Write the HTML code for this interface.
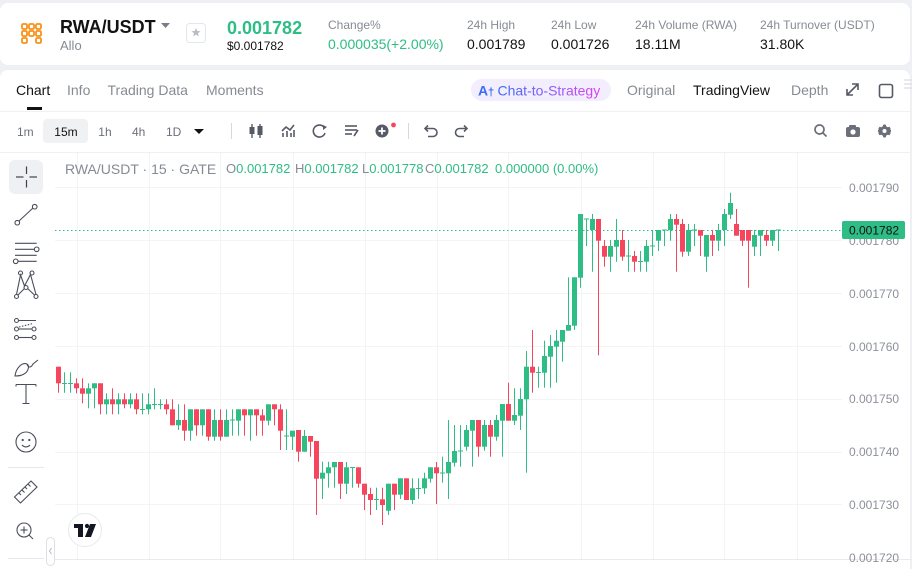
<!DOCTYPE html>
<html><head><meta charset="utf-8">
<style>
*{margin:0;padding:0;box-sizing:border-box}
html,body{width:912px;height:569px;overflow:hidden;background:#eff0f3;font-family:"Liberation Sans",sans-serif}
body{position:relative}
.card{position:absolute;background:#fff;border-radius:8px}
.t{position:absolute;white-space:nowrap;line-height:1}
.g{color:#868b93}
.k{color:#121212}
.gr{color:#2ebd85}
</style></head><body>
<div class="card" style="left:0;top:3px;width:910px;height:62px"></div>
<div class="card" style="left:0;top:70px;width:910px;height:499px;border-bottom-left-radius:0;border-bottom-right-radius:0"></div>

<svg style="position:absolute;left:0;top:0" width="912" height="569">
  <g fill="none" stroke="#f7931a" stroke-width="1.8">
    <rect x="22" y="24" width="5" height="5" rx="1.2"/><rect x="29" y="24" width="5" height="5" rx="1.2"/><rect x="36" y="24" width="5" height="5" rx="1.2"/>
    <rect x="22" y="31" width="5" height="5" rx="1.2"/><rect x="29" y="31" width="5" height="5" rx="1.2"/><rect x="36" y="31" width="5" height="5" rx="1.2"/>
    <rect x="22" y="38" width="5" height="5" rx="1.2"/><rect x="36" y="38" width="5" height="5" rx="1.2"/>
  </g>
  <polygon points="161,23 170,23 165.5,28" fill="#7a7e87"/>
  <rect x="186.5" y="23.5" width="19" height="19" rx="3" fill="#fff" stroke="#e4e6ea"/>
  <polygon points="196,28 197.3,31 200.4,31.2 198,33.2 198.8,36.3 196,34.6 193.2,36.3 194,33.2 191.6,31.2 194.7,31" fill="#b8bcc4"/>

  <rect x="27" y="107" width="15" height="3" fill="#121212"/>
  <rect x="471" y="79" width="140" height="22" rx="11" fill="#f3eefe"/>
  <defs><linearGradient id="cg" x1="0" x2="1" y1="0" y2="0"><stop offset="0" stop-color="#3a6cf6"/><stop offset="0.6" stop-color="#9b5cf6"/><stop offset="1" stop-color="#e040f0"/></linearGradient></defs>
  <text x="478" y="95.5" font-family="Liberation Sans" font-weight="bold" font-size="14" fill="#3a6cf6">A</text>
  <text x="488" y="95.5" font-family="Liberation Sans" font-weight="bold" font-size="11" fill="#3a6cf6">†</text>
  <text x="497.5" y="95.5" font-family="Liberation Sans" font-size="14" fill="url(#cg)">Chat-to-Strategy</text>
  <g stroke="#555a66" stroke-width="1.6" fill="none">
    <path d="M847,95 L858,84 M852,84 L858,84 L858,90 M847,89 L847,95 L853,95"/>
    <rect x="879.5" y="84.5" width="13" height="13" rx="2"/>
  </g>
  <g stroke="#d9dbe0" stroke-width="1.2"><line x1="904" y1="80" x2="912" y2="80"/><line x1="904" y1="84" x2="912" y2="84"/><line x1="904" y1="88" x2="912" y2="88"/></g>

  <line x1="0" y1="111.5" x2="910" y2="111.5" stroke="#f0f1f3"/>
  <rect x="43" y="119" width="45" height="24" rx="4" fill="#f0f1f3"/>
  <polygon points="194,129 204,129 199,134" fill="#121212"/>
  <line x1="231.5" y1="123" x2="231.5" y2="139" stroke="#d6d8dc"/>
  <line x1="408.5" y1="123" x2="408.5" y2="139" stroke="#d6d8dc"/>
  <g fill="#555a66" stroke="#555a66">
    <line x1="252" y1="124" x2="252" y2="138" stroke-width="1.4"/><rect x="249.5" y="127" width="5" height="7" stroke="none"/>
    <line x1="260" y1="124" x2="260" y2="138" stroke-width="1.4"/><rect x="257.5" y="126" width="5" height="9" stroke="none"/>
  </g>
  <g stroke="#555a66" stroke-width="1.6" fill="none">
    <polyline points="282,131 286,127 290,130 294,125"/>
    <line x1="283" y1="133" x2="283" y2="137"/><line x1="287" y1="131" x2="287" y2="137"/><line x1="291" y1="133" x2="291" y2="137"/><line x1="294" y1="130" x2="294" y2="137"/>
    <path d="M324.5,128 A6,6 0 1 0 325,133"/>
    <line x1="345" y1="126" x2="357" y2="126"/><line x1="345" y1="130" x2="357" y2="130"/><line x1="345" y1="134" x2="352" y2="134"/><line x1="354" y1="136" x2="358" y2="130"/>
    <path d="M425.5,128.5 L433,128.5 A4,4 0 0 1 433,136.5 L428,136.5"/>
    <path d="M467,128.5 L459.5,128.5 A4,4 0 0 0 459.5,136.5 L464,136.5"/>
  </g>
  <polygon points="323,125 327,127 323,130" fill="#555a66"/>
  <polyline points="428,125.5 425,128.5 428,131.5" fill="none" stroke="#555a66" stroke-width="1.6"/>
  <polyline points="464,125.5 467,128.5 464,131.5" fill="none" stroke="#555a66" stroke-width="1.6"/>
  <circle cx="382" cy="131" r="6.5" fill="#555a66"/>
  <line x1="378.5" y1="131" x2="385.5" y2="131" stroke="#fff" stroke-width="1.8"/><line x1="382" y1="127.5" x2="382" y2="134.5" stroke="#fff" stroke-width="1.8"/>
  <circle cx="393.5" cy="125" r="2.4" fill="#f6465d"/>
  <g stroke="#6b6f7a" stroke-width="1.7" fill="none">
    <circle cx="819.5" cy="129.5" r="4.5"/><line x1="823" y1="133" x2="826.5" y2="136.5"/>
  </g>
  <rect x="846" y="127" width="14" height="10" rx="2" fill="#6b6f7a"/><rect x="849" y="125" width="7" height="3" rx="1" fill="#6b6f7a"/>
  <circle cx="853" cy="132" r="2.6" fill="#fff"/>
  <g fill="#6b6f7a"><circle cx="884.5" cy="131" r="5"/>
    <rect x="883" y="124.5" width="3" height="13" rx="1"/><rect x="878" y="129.5" width="13" height="3" rx="1"/>
    <rect x="883" y="124.5" width="3" height="13" rx="1" transform="rotate(60 884.5 131)"/><rect x="883" y="124.5" width="3" height="13" rx="1" transform="rotate(-60 884.5 131)"/>
  </g>
  <circle cx="884.5" cy="131" r="2" fill="#fff"/>
  <line x1="0" y1="152.5" x2="910" y2="152.5" stroke="#eef0f2"/>

  <g stroke="#f3f4f6" stroke-width="1">
    <line x1="77.5" y1="153" x2="77.5" y2="559"/><line x1="149.5" y1="153" x2="149.5" y2="559"/><line x1="220.5" y1="153" x2="220.5" y2="559"/><line x1="293.5" y1="153" x2="293.5" y2="559"/><line x1="365.5" y1="153" x2="365.5" y2="559"/><line x1="437.5" y1="153" x2="437.5" y2="559"/><line x1="508.5" y1="153" x2="508.5" y2="559"/><line x1="581.5" y1="153" x2="581.5" y2="559"/><line x1="653.5" y1="153" x2="653.5" y2="559"/><line x1="724.5" y1="153" x2="724.5" y2="559"/><line x1="797.5" y1="153" x2="797.5" y2="559"/>
    <line x1="55" y1="187.5" x2="842" y2="187.5"/><line x1="55" y1="240.5" x2="842" y2="240.5"/><line x1="55" y1="293.5" x2="842" y2="293.5"/><line x1="55" y1="346.5" x2="842" y2="346.5"/><line x1="55" y1="399.5" x2="842" y2="399.5"/><line x1="55" y1="452.5" x2="842" y2="452.5"/><line x1="55" y1="504.5" x2="842" y2="504.5"/>
  </g>
  <line x1="55" y1="559.5" x2="912" y2="559.5" stroke="#e8eaed"/>

  <line x1="55" y1="230.5" x2="842" y2="230.5" stroke="#2ebd85" stroke-width="1" stroke-dasharray="1.5,2.5"/>

  <g fill="#2ebd85">
<rect x="62" y="383" width="5" height="1"/><rect x="64" y="372.3" width="1" height="20.4"/>
<rect x="68" y="383" width="5" height="1"/><rect x="70" y="372.3" width="1" height="20.4"/>
<rect x="86" y="388.3" width="5" height="5.4"/><rect x="88" y="383.3" width="1" height="25"/>
<rect x="92" y="383.3" width="5" height="5"/><rect x="94" y="383.3" width="1" height="25"/>
<rect x="104" y="399.3" width="5" height="5"/><rect x="106" y="393.3" width="1" height="21"/>
<rect x="116" y="399.3" width="5" height="5"/><rect x="118" y="393.3" width="1" height="21"/>
<rect x="128" y="399.3" width="5" height="5"/><rect x="130" y="393.3" width="1" height="15"/>
<rect x="140" y="409" width="5" height="1"/><rect x="142" y="393.3" width="1" height="21"/>
<rect x="146" y="404.3" width="5" height="5"/><rect x="148" y="393.3" width="1" height="21"/>
<rect x="152" y="404" width="5" height="1"/><rect x="154" y="388.3" width="1" height="21"/>
<rect x="158" y="404" width="5" height="1"/><rect x="160" y="399.3" width="1" height="10"/>
<rect x="176" y="420" width="5" height="5.3"/><rect x="178" y="404.3" width="1" height="25.7"/>
<rect x="188" y="409.3" width="5" height="21.4"/><rect x="190" y="409.3" width="1" height="31.4"/>
<rect x="200" y="409.3" width="5" height="16"/><rect x="202" y="409.3" width="1" height="26.4"/>
<rect x="212" y="420" width="5" height="16.7"/><rect x="214" y="409.3" width="1" height="31.4"/>
<rect x="224" y="420" width="5" height="16.7"/><rect x="226" y="409.3" width="1" height="27.4"/>
<rect x="230" y="419.5" width="5" height="1"/><rect x="232" y="409.3" width="1" height="26.4"/>
<rect x="236" y="409.3" width="5" height="11.4"/><rect x="238" y="409.3" width="1" height="26.4"/>
<rect x="248" y="409.3" width="5" height="6"/><rect x="250" y="409.3" width="1" height="31.4"/>
<rect x="266" y="404.3" width="5" height="16.4"/><rect x="268" y="404.3" width="1" height="21"/>
<rect x="284" y="435.5" width="5" height="1"/><rect x="286" y="409.3" width="1" height="40.7"/>
<rect x="290" y="430.7" width="5" height="6"/><rect x="292" y="430.7" width="1" height="19.3"/>
<rect x="302" y="436" width="5" height="15.7"/><rect x="304" y="430" width="1" height="21.7"/>
<rect x="320" y="472.7" width="5" height="6"/><rect x="322" y="461.7" width="1" height="37.3"/>
<rect x="326" y="467.3" width="5" height="6"/><rect x="328" y="461.7" width="1" height="26"/>
<rect x="332" y="462" width="5" height="5.3"/><rect x="334" y="462" width="1" height="25.7"/>
<rect x="344" y="467.3" width="5" height="16.4"/><rect x="346" y="462" width="1" height="32"/>
<rect x="350" y="467" width="5" height="1"/><rect x="352" y="467.3" width="1" height="20.4"/>
<rect x="374" y="499" width="5" height="1"/><rect x="376" y="487.7" width="1" height="22.3"/>
<rect x="386" y="483.7" width="5" height="27"/><rect x="388" y="483.7" width="1" height="31.3"/>
<rect x="398" y="478.3" width="5" height="16.4"/><rect x="400" y="478.3" width="1" height="20.7"/>
<rect x="410" y="488.3" width="5" height="11.7"/><rect x="412" y="478.3" width="1" height="25.7"/>
<rect x="416" y="488" width="5" height="1"/><rect x="418" y="478.3" width="1" height="20.7"/>
<rect x="422" y="478.3" width="5" height="10"/><rect x="424" y="472.7" width="1" height="21.3"/>
<rect x="428" y="467.3" width="5" height="11.4"/><rect x="430" y="467.3" width="1" height="15.4"/>
<rect x="440" y="472.5" width="5" height="1"/><rect x="442" y="456.7" width="1" height="26"/>
<rect x="446" y="462" width="5" height="11.3"/><rect x="448" y="420" width="1" height="79"/>
<rect x="452" y="451" width="5" height="11.7"/><rect x="454" y="425" width="1" height="41.7"/>
<rect x="458" y="450.5" width="5" height="1"/><rect x="460" y="425" width="1" height="41.7"/>
<rect x="464" y="430" width="5" height="16.7"/><rect x="466" y="425" width="1" height="25.7"/>
<rect x="470" y="420" width="5" height="10.7"/><rect x="472" y="420" width="1" height="46.7"/>
<rect x="482" y="425" width="5" height="21.7"/><rect x="484" y="420" width="1" height="30.7"/>
<rect x="494" y="420" width="5" height="16.7"/><rect x="496" y="415" width="1" height="25.7"/>
<rect x="500" y="404" width="5" height="16.7"/><rect x="502" y="404" width="1" height="52.7"/>
<rect x="512" y="415" width="5" height="5.7"/><rect x="514" y="388.3" width="1" height="36.7"/>
<rect x="518" y="399" width="5" height="16.7"/><rect x="520" y="388.3" width="1" height="41.7"/>
<rect x="524" y="366.7" width="5" height="32.6"/><rect x="526" y="351" width="1" height="121.7"/>
<rect x="536" y="372" width="5" height="1"/><rect x="538" y="366.7" width="1" height="21"/>
<rect x="542" y="356" width="5" height="16.7"/><rect x="544" y="340.7" width="1" height="47"/>
<rect x="548" y="346" width="5" height="10.7"/><rect x="550" y="335" width="1" height="52.7"/>
<rect x="554" y="340.7" width="5" height="6"/><rect x="556" y="330" width="1" height="52.7"/>
<rect x="560" y="330" width="5" height="11.7"/><rect x="562" y="330" width="1" height="31.7"/>
<rect x="566" y="325" width="5" height="5.7"/><rect x="568" y="277.3" width="1" height="53.4"/>
<rect x="572" y="277.3" width="5" height="48.4"/><rect x="574" y="277.3" width="1" height="52.7"/>
<rect x="578" y="214" width="5" height="63.7"/><rect x="580" y="214" width="1" height="73.7"/>
<rect x="584" y="218.5" width="5" height="1"/><rect x="586" y="219" width="1" height="27"/>
<rect x="590" y="219" width="5" height="11"/><rect x="592" y="214" width="1" height="57.7"/>
<rect x="608" y="246" width="5" height="10.7"/><rect x="610" y="240" width="1" height="31.7"/>
<rect x="614" y="240" width="5" height="6.7"/><rect x="616" y="219" width="1" height="42.7"/>
<rect x="626" y="255.5" width="5" height="1"/><rect x="628" y="240" width="1" height="31.7"/>
<rect x="638" y="261" width="5" height="1"/><rect x="640" y="251" width="1" height="20.7"/>
<rect x="644" y="246" width="5" height="15.7"/><rect x="646" y="240" width="1" height="31.7"/>
<rect x="650" y="245.5" width="5" height="1"/><rect x="652" y="230" width="1" height="26"/>
<rect x="656" y="230" width="5" height="10.7"/><rect x="658" y="230" width="1" height="21"/>
<rect x="662" y="229.5" width="5" height="1"/><rect x="664" y="230" width="1" height="16"/>
<rect x="668" y="219" width="5" height="11"/><rect x="670" y="214" width="1" height="26.7"/>
<rect x="686" y="230" width="5" height="21.7"/><rect x="688" y="224" width="1" height="32"/>
<rect x="692" y="229.5" width="5" height="1"/><rect x="694" y="224" width="1" height="22"/>
<rect x="704" y="235" width="5" height="21.7"/><rect x="706" y="235" width="1" height="36.7"/>
<rect x="716" y="230" width="5" height="10.7"/><rect x="718" y="224" width="1" height="27"/>
<rect x="722" y="214" width="5" height="16"/><rect x="724" y="209" width="1" height="37"/>
<rect x="728" y="203" width="5" height="11.7"/><rect x="730" y="192.7" width="1" height="26.3"/>
<rect x="752" y="235" width="5" height="11.7"/><rect x="754" y="230" width="1" height="26"/>
<rect x="758" y="230" width="5" height="5.7"/><rect x="760" y="230" width="1" height="26"/>
<rect x="770" y="230" width="5" height="10.7"/><rect x="772" y="230" width="1" height="16"/>
<rect x="776" y="229.5" width="5" height="1"/><rect x="778" y="230" width="1" height="21"/>
  </g>
  <g fill="#f6465d">
<rect x="56" y="366.7" width="5" height="16.6"/><rect x="58" y="366.7" width="1" height="26"/>
<rect x="74" y="383.3" width="5" height="5"/><rect x="76" y="378.3" width="1" height="15"/>
<rect x="80" y="388.3" width="5" height="5.4"/><rect x="82" y="378.3" width="1" height="25"/>
<rect x="98" y="383.3" width="5" height="21"/><rect x="100" y="383.3" width="1" height="31"/>
<rect x="110" y="399.3" width="5" height="5"/><rect x="112" y="388.3" width="1" height="26"/>
<rect x="122" y="399.3" width="5" height="5"/><rect x="124" y="393.3" width="1" height="15"/>
<rect x="134" y="399.3" width="5" height="10"/><rect x="136" y="393.3" width="1" height="21"/>
<rect x="164" y="404.3" width="5" height="5"/><rect x="166" y="399.3" width="1" height="15"/>
<rect x="170" y="409.3" width="5" height="16"/><rect x="172" y="399.3" width="1" height="26"/>
<rect x="182" y="420" width="5" height="10.7"/><rect x="184" y="404.3" width="1" height="36.4"/>
<rect x="194" y="409.3" width="5" height="16"/><rect x="196" y="409.3" width="1" height="26.4"/>
<rect x="206" y="409.3" width="5" height="27.4"/><rect x="208" y="409.3" width="1" height="31.4"/>
<rect x="218" y="420" width="5" height="16.7"/><rect x="220" y="409.3" width="1" height="31.4"/>
<rect x="242" y="409.3" width="5" height="6"/><rect x="244" y="409.3" width="1" height="26.4"/>
<rect x="254" y="409.3" width="5" height="6"/><rect x="256" y="409.3" width="1" height="26.4"/>
<rect x="260" y="415.3" width="5" height="5.4"/><rect x="262" y="409.3" width="1" height="26.4"/>
<rect x="272" y="404.3" width="5" height="5"/><rect x="274" y="404.3" width="1" height="21"/>
<rect x="278" y="409.3" width="5" height="21.4"/><rect x="280" y="404.3" width="1" height="45.7"/>
<rect x="296" y="430" width="5" height="21.7"/><rect x="298" y="430" width="1" height="31.7"/>
<rect x="308" y="436" width="5" height="5.7"/><rect x="310" y="436" width="1" height="20.7"/>
<rect x="314" y="441" width="5" height="37.7"/><rect x="316" y="441" width="1" height="74"/>
<rect x="338" y="462" width="5" height="21.7"/><rect x="340" y="462" width="1" height="37"/>
<rect x="356" y="467.3" width="5" height="16.4"/><rect x="358" y="467.3" width="1" height="20.4"/>
<rect x="362" y="483.7" width="5" height="11"/><rect x="364" y="483.7" width="1" height="26.3"/>
<rect x="368" y="494" width="5" height="6"/><rect x="370" y="487.7" width="1" height="27.3"/>
<rect x="380" y="499.3" width="5" height="5.7"/><rect x="382" y="487.7" width="1" height="37.3"/>
<rect x="392" y="483.7" width="5" height="11"/><rect x="394" y="483.7" width="1" height="26.3"/>
<rect x="404" y="478.3" width="5" height="21.7"/><rect x="406" y="478.3" width="1" height="21.7"/>
<rect x="434" y="467.3" width="5" height="6"/><rect x="436" y="462" width="1" height="42"/>
<rect x="476" y="420" width="5" height="26.7"/><rect x="478" y="420" width="1" height="36.7"/>
<rect x="488" y="425" width="5" height="11.7"/><rect x="490" y="420" width="1" height="36.7"/>
<rect x="506" y="404" width="5" height="16.7"/><rect x="508" y="382.7" width="1" height="38"/>
<rect x="530" y="366.7" width="5" height="6"/><rect x="532" y="330" width="1" height="62.7"/>
<rect x="596" y="219" width="5" height="21.7"/><rect x="598" y="219" width="1" height="136.3"/>
<rect x="602" y="246" width="5" height="10.7"/><rect x="604" y="240" width="1" height="26.7"/>
<rect x="620" y="240" width="5" height="16.7"/><rect x="622" y="230" width="1" height="30.7"/>
<rect x="632" y="256" width="5" height="5.7"/><rect x="634" y="251" width="1" height="20.7"/>
<rect x="674" y="219" width="5" height="5.7"/><rect x="676" y="214" width="1" height="57.7"/>
<rect x="680" y="224" width="5" height="27.7"/><rect x="682" y="219" width="1" height="37.7"/>
<rect x="698" y="230" width="5" height="5.7"/><rect x="700" y="230" width="1" height="26"/>
<rect x="710" y="235" width="5" height="5.7"/><rect x="712" y="230" width="1" height="26"/>
<rect x="734" y="224" width="5" height="11.7"/><rect x="736" y="209" width="1" height="26.7"/>
<rect x="740" y="230" width="5" height="10.7"/><rect x="742" y="230" width="1" height="16"/>
<rect x="746" y="230" width="5" height="10.7"/><rect x="748" y="230" width="1" height="57.7"/>
<rect x="764" y="235" width="5" height="5.7"/><rect x="766" y="230" width="1" height="16"/>
  </g>

  <g font-family="Liberation Sans" font-size="12" fill="#8d9099">
    <text x="849" y="192">0.001790</text>
    <text x="849" y="298">0.001770</text>
    <text x="849" y="351">0.001760</text>
    <text x="849" y="403">0.001750</text>
    <text x="849" y="456">0.001740</text>
    <text x="849" y="509">0.001730</text>
    <text x="849" y="562">0.001720</text>
    <text x="849" y="245">0.001780</text>
  </g>
  <rect x="842" y="221" width="63" height="18" rx="2" fill="#2ebd85"/>
  <text x="849" y="234.5" font-family="Liberation Sans" font-size="12" fill="#121212">0.001782</text>

  <rect x="9" y="160" width="34" height="34" rx="6" fill="#eef0f3"/>
  <g stroke="#3e4250" stroke-width="1.2" fill="none">
    <line x1="16" y1="177" x2="23.5" y2="177"/><line x1="29.5" y1="177" x2="37" y2="177"/>
    <line x1="26.5" y1="166.5" x2="26.5" y2="174"/><line x1="26.5" y1="180" x2="26.5" y2="187.5"/>
  </g>
  <g stroke="#4a4e5c" stroke-width="1.1" fill="none">
    <line x1="19" y1="221" x2="33" y2="208"/><circle cx="17.3" cy="222.7" r="2.3"/><circle cx="34.7" cy="206.7" r="2.3"/>
    <line x1="15" y1="243.3" x2="36.7" y2="243.3"/><line x1="15" y1="249.3" x2="34.4" y2="249.3"/><circle cx="36.7" cy="249.3" r="2.3"/>
    <line x1="15" y1="255.3" x2="36.7" y2="255.3"/><line x1="18" y1="261.3" x2="36.7" y2="261.3"/><circle cx="15.7" cy="261.3" r="2.3"/>
    <circle cx="16.5" cy="296.5" r="2"/><circle cx="20.5" cy="273" r="2"/><circle cx="26" cy="287.5" r="2"/><circle cx="32" cy="273" r="2"/><circle cx="36" cy="296.5" r="2"/>
    <polyline points="16.5,294.5 20.5,275 24.5,286 30.5,274.5 36,294.5"/><line x1="18" y1="295" x2="24.5" y2="288.5"/><line x1="27.5" y1="288.5" x2="34.5" y2="295"/>
    <circle cx="16.5" cy="320.5" r="2"/><line x1="18.5" y1="320.5" x2="36" y2="320.5"/>
    <line x1="19" y1="327" x2="33" y2="323.5" stroke-dasharray="1.5,1.5"/>
    <circle cx="16.5" cy="329" r="2"/><line x1="18.5" y1="329" x2="32" y2="329"/><circle cx="34" cy="329" r="2"/>
    <circle cx="16.5" cy="337.5" r="2"/><line x1="18.5" y1="337.5" x2="32" y2="337.5"/><circle cx="34" cy="337.5" r="2"/>
    <path d="M15,376 C16,368 22,362 27,364 C30,366 28,372 24,374 C21,376 17,376 15,376 Z M27,364 C28,368 31,368 33,364 L38,360"/>
    <path d="M16,384.5 L36,384.5 M16,384.5 L16,386.5 M36,384.5 L36,386.5 M26,384.5 L26,403.5 M22.5,403.5 L29.5,403.5"/>
    <circle cx="26" cy="442" r="10"/><circle cx="22.7" cy="440" r="0.6" fill="#4a4e5c"/><circle cx="29.3" cy="440" r="0.6" fill="#4a4e5c"/>
    <path d="M22,445 Q26,449 30,445"/>
    <path d="M14.5,497 L31,481 L37,487 L20.5,503 Z"/>
    <path d="M19,493 L21,495 M22,490 L24.5,492.5 M25,487 L27,489 M28,484 L30.5,486.5"/>
    <circle cx="24" cy="530" r="7"/><line x1="29" y1="535" x2="33" y2="539"/><line x1="20.5" y1="530" x2="27.5" y2="530"/><line x1="24" y1="526.5" x2="24" y2="533.5"/>
  </g>
  <line x1="8" y1="467.5" x2="44" y2="467.5" stroke="#e6e8eb"/>
  <line x1="8" y1="558.5" x2="44" y2="558.5" stroke="#e6e8eb"/>
  <rect x="46.5" y="537.5" width="8" height="28" rx="4" fill="#fff" stroke="#dcdfe3"/>
  <polyline points="51.5,548 49.5,551 51.5,554" fill="none" stroke="#b0b4bb" stroke-width="0.9"/>

  <circle cx="85" cy="530" r="16.5" fill="#fff" stroke="#e8e9ec"/>
  <g fill="#131722">
    <rect x="74" y="524" width="9" height="4"/><rect x="78" y="524" width="5" height="13"/>
    <circle cx="87" cy="526" r="2.1"/>
    <polygon points="90,524 96,524 91,537 85,537"/>
  </g>
</svg>

<div class="t k" style="left:60px;top:17.9px;font-size:18px;font-weight:bold">RWA/USDT</div>
<div class="t g" style="left:60px;top:38.5px;font-size:13px">Allo</div>
<div class="t gr" style="left:227px;top:18.6px;font-size:18px;font-weight:bold">0.001782</div>
<div class="t k" style="left:227px;top:40.3px;font-size:12px">$0.001782</div>
<div class="t g" style="left:328px;top:18.6px;font-size:12px">Change%</div>
<div class="t gr" style="left:328px;top:36.7px;font-size:14px">0.000035(+2.00%)</div>
<div class="t g" style="left:467px;top:18.6px;font-size:12px">24h High</div>
<div class="t k" style="left:467px;top:36.7px;font-size:14px">0.001789</div>
<div class="t g" style="left:551px;top:18.6px;font-size:12px">24h Low</div>
<div class="t k" style="left:551px;top:36.7px;font-size:14px">0.001726</div>
<div class="t g" style="left:635px;top:18.6px;font-size:12px">24h Volume (RWA)</div>
<div class="t k" style="left:635px;top:36.7px;font-size:14px">18.11M</div>
<div class="t g" style="left:760px;top:18.6px;font-size:12px">24h Turnover (USDT)</div>
<div class="t k" style="left:760px;top:36.7px;font-size:14px">31.80K</div>

<div class="t k" style="left:16px;top:83.4px;font-size:14px">Chart</div>
<div class="t g" style="left:67px;top:83.4px;font-size:14px">Info</div>
<div class="t g" style="left:107.5px;top:83.4px;font-size:14px">Trading Data</div>
<div class="t g" style="left:206px;top:83.4px;font-size:14px">Moments</div>
<div class="t g" style="left:627px;top:83.4px;font-size:14px">Original</div>
<div class="t k" style="left:693px;top:83.4px;font-size:14px">TradingView</div>
<div class="t g" style="left:791px;top:83.4px;font-size:14px">Depth</div>

<div class="t" style="left:17px;top:125.9px;font-size:12px;color:#6b6f7a">1m</div>
<div class="t k" style="left:54.3px;top:125.9px;font-size:12px">15m</div>
<div class="t" style="left:98.3px;top:125.9px;font-size:12px;color:#6b6f7a">1h</div>
<div class="t" style="left:132px;top:125.9px;font-size:12px;color:#6b6f7a">4h</div>
<div class="t" style="left:166px;top:125.9px;font-size:12px;color:#6b6f7a">1D</div>

<div class="t" style="left:65px;top:161.7px;font-size:14px;color:#868b93">RWA/USDT · 15 · GATE</div>
<div class="t" style="left:226px;top:162.3px;font-size:13px;color:#868b93">O<span class="gr">0.001782</span></div>
<div class="t" style="left:295px;top:162.3px;font-size:13px;color:#868b93">H<span class="gr">0.001782</span></div>
<div class="t" style="left:362px;top:162.3px;font-size:13px;color:#868b93">L<span class="gr">0.001778</span></div>
<div class="t" style="left:425px;top:162.3px;font-size:13px;color:#868b93">C<span class="gr">0.001782</span></div>
<div class="t gr" style="left:495px;top:162.3px;font-size:13px">0.000000 (0.00%)</div>
</body></html>
